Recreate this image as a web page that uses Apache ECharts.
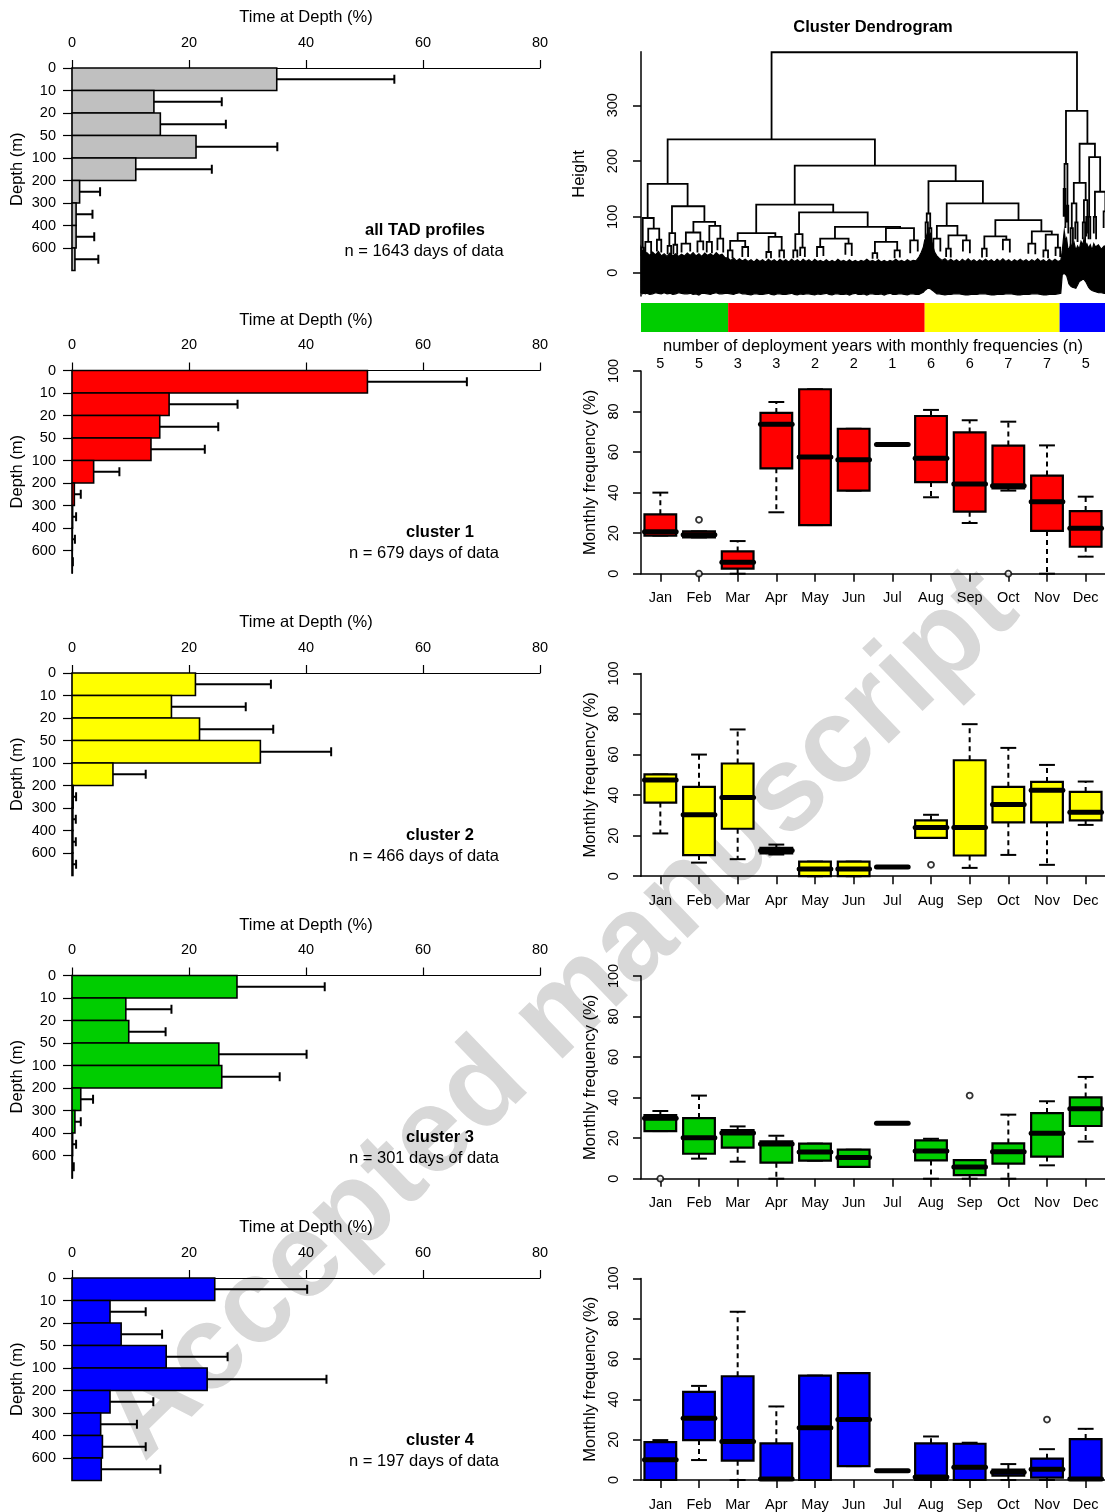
<!DOCTYPE html>
<html>
<head>
<meta charset="utf-8">
<script src="https://cdn.jsdelivr.net/npm/echarts@6/dist/echarts.min.js"></script>
<style>
  html, body { margin: 0; padding: 0; background: #fff; }
  #chart { width: 1105px; height: 1512px; }
</style>
</head>
<body>
<div id="chart"></div>
<script>
// ---------- data ----------
const depthBins = ['0', '10', '20', '50', '100', '200', '300', '400', '600'];
const profileNames = ['all TAD profiles', 'cluster 1', 'cluster 2', 'cluster 3', 'cluster 4'];
const profileDays = [1643, 679, 466, 301, 197];

// time at depth (%) per depth bin: mean and standard deviation
const tadMeanAll = [35.0, 14.0, 15.1, 21.2, 10.9, 1.3, 0.7, 0.7, 0.5];
const tadSdAll   = [20.1, 11.6, 11.2, 13.9, 13.0, 3.5, 2.8, 3.1, 4.0];
const tadMeanC1  = [50.5, 16.6, 15.0, 13.5, 3.7, 0.4, 0.1, 0.05, 0.02];
const tadSdC1    = [17.0, 11.7, 10.0, 9.2, 4.4, 1.1, 0.6, 0.45, 0.13];
const tadMeanC2  = [21.1, 17.0, 21.8, 32.2, 7.0, 0.2, 0.15, 0.15, 0.15];
const tadSdC2    = [12.9, 12.7, 12.6, 12.1, 5.6, 0.5, 0.5, 0.5, 0.55];
const tadMeanC3  = [28.2, 9.2, 9.7, 25.1, 25.6, 1.5, 0.5, 0.1, 0.05];
const tadSdC3    = [15.0, 7.8, 6.3, 15.0, 9.9, 2.1, 1.0, 0.6, 0.25];
const tadMeanC4  = [24.4, 6.5, 8.4, 16.1, 23.1, 6.5, 4.9, 5.2, 5.0];
const tadSdC4    = [15.8, 6.1, 7.0, 10.5, 20.4, 7.4, 6.2, 7.4, 10.1];

const months = ['Jan', 'Feb', 'Mar', 'Apr', 'May', 'Jun', 'Jul', 'Aug', 'Sep', 'Oct', 'Nov', 'Dec'];
const deployYears = [5, 5, 3, 3, 2, 2, 1, 6, 6, 7, 7, 5];

// monthly frequency (%): [lower whisker, Q1, median, Q3, upper whisker]
const freqC1 = [
  [18.8, 18.8, 20.7, 29.3, 40.0], [17.9, 17.9, 19.2, 20.9, 20.9], [0, 2.5, 5.6, 11.0, 16.1],
  [30.3, 52.0, 73.7, 79.3, 84.7], [24.0, 24.0, 57.6, 91.0, 91.0], [41.0, 41.0, 56.2, 71.5, 71.5],
  [63.7, 63.7, 63.7, 63.7, 63.7], [37.7, 45.2, 56.9, 77.8, 80.8], [25.0, 30.6, 44.2, 69.7, 75.7],
  [41.0, 42.1, 43.4, 63.2, 75.0], [0, 21.1, 35.5, 48.4, 63.3], [8.4, 13.3, 22.4, 30.9, 38.0]
];
const outC1 = [[1, 26.6], [1, 0], [9, 0]];
const freqC2 = [
  [21.1, 36.3, 47.5, 50.2, 50.2], [6.7, 10.4, 30.3, 44.1, 60.0], [8.4, 23.4, 38.8, 55.6, 72.4],
  [10.7, 11.2, 12.7, 14.0, 15.6], [0, 0, 3.6, 7.2, 7.2], [0, 0, 3.6, 7.2, 7.2],
  [4.6, 4.6, 4.6, 4.6, 4.6], [18.9, 18.9, 24.0, 27.5, 30.3], [4.1, 10.2, 24.0, 57.2, 75.0],
  [10.5, 26.6, 35.4, 44.1, 63.3], [5.6, 26.6, 42.4, 46.5, 54.9], [25.3, 27.5, 31.6, 41.6, 46.7]
];
const outC2 = [[7, 5.6]];
const freqC3 = [
  [23.5, 23.5, 29.8, 31.4, 33.4], [9.9, 12.3, 20.2, 29.9, 41.0], [8.4, 15.3, 22.5, 24.0, 25.8],
  [0, 7.9, 17.1, 18.4, 21.2], [8.9, 8.9, 13.2, 17.3, 17.3], [5.8, 5.8, 10.5, 14.3, 14.3],
  [27.3, 27.3, 27.3, 27.3, 27.3], [0, 9.0, 13.7, 18.9, 19.7], [0, 1.8, 5.8, 9.2, 9.2],
  [0, 7.4, 13.3, 17.4, 31.6], [6.6, 10.9, 22.4, 32.4, 38.2], [18.3, 26.0, 34.5, 40.1, 50.2]
];
const outC3 = [[0, 0], [8, 41.0]];
const freqC4 = [
  [0, 0, 10.1, 18.8, 19.8], [9.9, 19.8, 30.7, 43.7, 46.7], [0, 9.6, 19.1, 51.5, 83.5],
  [0, 0, 0.5, 18.2, 36.5], [0, 0, 25.9, 51.8, 51.8], [6.9, 6.9, 30.0, 53.0, 53.0],
  [4.6, 4.6, 4.6, 4.6, 4.6], [0, 0, 1.5, 18.2, 21.6], [0, 0, 6.3, 18.0, 18.5],
  [0, 2.1, 3.8, 5.1, 7.9], [0, 1.2, 5.3, 10.6, 15.3], [0, 0, 0.5, 20.3, 25.4]
];
const outC4 = [[10, 30.0]];

// dendrogram: leaves ordered left to right, cluster order along the leaves
const leafCount = 1643;
const clusterOrder = [3, 1, 2, 4];
const heightTicks = [0, 100, 200, 300];
// merges: [left x, right x, merge height, left child height, right child height]
const dendroMerges = [
  [451, 1506, 395, 239, 290],
  [92, 808, 239, 159, 192],
  [23, 161, 159, 98, 119],
  [6, 44, 98, 45, 79], [2, 10, 45, 30, 30], [25, 63, 79, 55, 59], [15, 35, 55, 34, 34], [55, 70, 59, 38, 36],
  [107, 219, 119, 71, 91], [98, 118, 71, 48, 50], [92, 104, 48, 33, 32], [112, 125, 50, 33, 32],
  [181, 256, 91, 72, 84], [155, 205, 72, 52, 56], [140, 170, 52, 36, 38], [195, 215, 56, 36, 40],
  [236, 274, 84, 55, 61], [227, 245, 55, 36, 35], [264, 284, 61, 40, 36],
  [531, 1087, 192, 122, 164],
  [398, 664, 122, 71, 108], [334, 464, 71, 57, 64], [308, 360, 57, 40, 46], [350, 370, 46, 28, 28],
  [300, 316, 40, 26, 26], [441, 486, 64, 37, 40], [433, 449, 37, 26, 26], [478, 494, 40, 27, 26],
  [546, 783, 108, 69, 82], [533, 558, 69, 40, 45], [526, 540, 40, 26, 27], [550, 566, 45, 30, 28],
  [670, 895, 82, 61, 80], [619, 717, 61, 46, 52],
  [608, 630, 46, 28, 30], [706, 728, 52, 32, 30], [846, 943, 80, 55, 58], [808, 885, 55, 35, 40],
  [800, 816, 35, 25, 25], [876, 894, 40, 26, 27], [930, 956, 58, 35, 38],
  [993, 1181, 164, 106, 124], [987, 999, 106, 90, 80], [983, 991, 90, 62, 55], [995, 1003, 80, 60, 45],
  [1056, 1304, 124, 84, 94], [1022, 1093, 84, 61, 67], [1010, 1034, 61, 40, 38], [1062, 1124, 67, 43, 58],
  [1054, 1070, 43, 28, 27], [1112, 1136, 58, 38, 35],
  [1224, 1383, 94, 65, 74], [1186, 1262, 65, 43, 59], [1178, 1194, 43, 27, 28], [1250, 1274, 59, 40, 36],
  [1350, 1419, 74, 52, 68], [1338, 1362, 52, 34, 33], [1398, 1440, 68, 40, 45],
  [1390, 1406, 40, 27, 26], [1432, 1448, 45, 30, 28],
  [1468, 1542, 290, 195, 231], [1463, 1473, 195, 150, 120], [1460, 1466, 150, 100, 80], [1470, 1476, 120, 90, 70],
  [1515, 1568, 231, 161, 207], [1495, 1536, 161, 124, 130], [1488, 1504, 124, 80, 90], [1530, 1542, 130, 90, 100],
  [1484, 1492, 80, 50, 45], [1500, 1508, 90, 60, 55], [1526, 1534, 90, 60, 50], [1538, 1546, 100, 65, 60],
  [1548, 1586, 207, 100, 145], [1544, 1552, 100, 70, 60], [1568, 1604, 145, 100, 110],
  [1564, 1572, 100, 70, 60], [1598, 1610, 110, 80, 70]
];
// outline of the dense low-level merges and hanging leaves: [leaf position, top height, bottom height]
const leafMass = [
  [0, 45, -36], [5, 38, -38], [10, 42, -37], [15, 33, -38], [20, 36, -37], [30, 31, -39], [40, 37, -38],
  [50, 32, -36], [60, 38, -37], [70, 30, -38], [80, 34, -36], [90, 29, -38], [100, 35, -37],
  [110, 30, -39], [120, 34, -38], [130, 29, -36], [140, 33, -37], [150, 30, -38], [160, 35, -38],
  [170, 31, -37], [180, 36, -39], [190, 30, -38], [200, 34, -40], [210, 29, -37], [220, 35, -37],
  [230, 31, -38], [240, 34, -39], [250, 30, -37], [260, 36, -36], [270, 31, -38], [280, 33, -38],
  [290, 27, -37], [300, 26, -37], [310, 22, -38], [320, 26, -39], [330, 21, -37], [340, 25, -36],
  [350, 21, -38], [360, 24, -38], [370, 20, -39], [380, 23, -40], [390, 19, -38], [400, 24, -38],
  [410, 20, -39], [420, 23, -39], [430, 19, -38], [440, 24, -37], [450, 20, -39], [460, 23, -40],
  [470, 19, -38], [480, 24, -38], [490, 20, -39], [500, 23, -39], [510, 19, -38], [520, 24, -37],
  [530, 20, -39], [540, 23, -40], [550, 19, -38], [560, 24, -39], [570, 20, -38], [580, 23, -38],
  [590, 19, -39], [600, 24, -40], [610, 20, -38], [620, 22, -39], [630, 19, -38], [640, 23, -37],
  [650, 19, -39], [660, 22, -40], [670, 19, -38], [680, 24, -38], [690, 20, -39], [700, 22, -39],
  [710, 19, -38], [720, 23, -40], [730, 19, -38], [740, 22, -37], [750, 19, -39], [760, 22, -39],
  [770, 20, -38], [780, 24, -40], [790, 20, -38], [800, 22, -38], [810, 19, -39], [820, 23, -39],
  [830, 19, -38], [840, 22, -40], [850, 19, -38], [860, 22, -37], [870, 20, -39], [880, 24, -39],
  [890, 20, -38], [900, 22, -38], [910, 19, -39], [920, 23, -40], [930, 20, -38], [940, 22, -38],
  [950, 21, -39], [960, 28, -39], [968, 36, -37], [975, 45, -35], [980, 58, -32], [985, 64, -30],
  [990, 72, -28], [995, 66, -28], [1000, 70, -29], [1005, 55, -31], [1010, 44, -33], [1015, 36, -35],
  [1022, 30, -38], [1030, 26, -38], [1040, 22, -39], [1050, 25, -40], [1060, 20, -39], [1070, 24, -39],
  [1080, 20, -38], [1090, 23, -38], [1100, 19, -38], [1110, 24, -39], [1120, 20, -40], [1130, 25, -40],
  [1140, 20, -39], [1150, 23, -39], [1160, 19, -39], [1170, 23, -38], [1180, 20, -38], [1190, 24, -38],
  [1200, 20, -39], [1210, 23, -40], [1220, 19, -40], [1230, 24, -39], [1240, 20, -39], [1250, 25, -39],
  [1260, 20, -38], [1270, 23, -38], [1280, 19, -38], [1290, 23, -39], [1300, 20, -40], [1310, 24, -40],
  [1320, 20, -39], [1330, 23, -39], [1340, 19, -39], [1350, 23, -38], [1360, 20, -38], [1370, 25, -38],
  [1380, 20, -39], [1390, 23, -40], [1400, 19, -40], [1410, 24, -39], [1420, 20, -39], [1430, 24, -39],
  [1440, 20, -38], [1450, 22, -37], [1455, 38, -4], [1459, 60, -2], [1462, 75, -1], [1466, 58, -3],
  [1470, 62, -5], [1474, 45, -12], [1478, 40, -20], [1484, 52, -24], [1490, 45, -26], [1496, 54, -27],
  [1502, 40, -28], [1508, 48, -22], [1514, 42, -16], [1520, 56, -14], [1526, 50, -12], [1530, 60, -12],
  [1536, 48, -16], [1540, 52, -20], [1546, 44, -26], [1552, 50, -30], [1558, 40, -32], [1564, 52, -33],
  [1570, 46, -34], [1580, 50, -36], [1590, 42, -36], [1600, 48, -37], [1610, 40, -38], [1643, 38, -38]
];

// ---------- styling / layout ----------
const FONT = '"Liberation Sans", Arial, Helvetica, sans-serif';
const profileColors = ['#c0c0c0', '#ff0000', '#ffff00', '#00cd00', '#0000ff'];
const tadMeans = [tadMeanAll, tadMeanC1, tadMeanC2, tadMeanC3, tadMeanC4];
const tadSds = [tadSdAll, tadSdC1, tadSdC2, tadSdC3, tadSdC4];
const freqBoxes = [freqC1, freqC2, freqC3, freqC4];
const freqOutliers = [outC1, outC2, outC3, outC4];

const PAGE_W = 1105;
const STEP = 302.5;
const TAD = { left: 72, top: 68, width: 468, height: 202.5 };
const BOX = { left: 641, top: 371, width: 465, height: 202.7 };
const DEN = { left: 641, top: 51.7, height: 244.4, leafSpacing: 0.2895 };
const BAR = { top: 303, height: 29 };
// the tree runs past the right page edge; only the part that fits is laid out
const denWidth = PAGE_W - DEN.left;
const denXMax = denWidth / DEN.leafSpacing;

const black = '#000';
const tickFont = { color: black, fontSize: 14.5, fontFamily: FONT };
const nameFont = { color: black, fontSize: 16.5, fontFamily: FONT };

const grid = [], xAxis = [], yAxis = [], series = [];

// ---------- time-at-depth profiles ----------
function tadRenderer(fill) {
  return function (params, api) {
    const i = api.value(0), v = api.value(1), sd = api.value(2);
    const a = api.coord([0, i]);
    const b = api.coord([v, i + 1]);
    const m = api.coord([v, i + 0.5]);
    const e = api.coord([v + sd, i + 0.5]);
    return {
      type: 'group',
      children: [
        { type: 'rect', shape: { x: a[0], y: a[1], width: b[0] - a[0], height: b[1] - a[1] },
          style: { fill: fill, stroke: black, lineWidth: 1.6 } },
        { type: 'line', shape: { x1: m[0], y1: m[1], x2: e[0], y2: e[1] },
          style: { stroke: black, lineWidth: 2 } },
        { type: 'line', shape: { x1: e[0], y1: e[1] - 4.5, x2: e[0], y2: e[1] + 4.5 },
          style: { stroke: black, lineWidth: 2 } }
      ]
    };
  };
}

const binIdx = depthBins.map((d, i) => i);
for (let k = 0; k < 5; k++) {
  const gi = grid.length;
  grid.push({ left: TAD.left, top: TAD.top + k * STEP, width: TAD.width, height: TAD.height });
  xAxis.push({
    type: 'value', gridIndex: gi, position: 'top', min: 0, max: 80, interval: 20,
    axisLine: { show: true, onZero: false, lineStyle: { color: black, width: 1.2 } },
    axisTick: { show: true, length: 8, lineStyle: { color: black, width: 1.2 } },
    axisLabel: Object.assign({ margin: 18 }, tickFont),
    splitLine: { show: false },
    name: 'Time at Depth (%)', nameLocation: 'middle', nameGap: 42, nameTextStyle: nameFont
  });
  yAxis.push({
    type: 'value', gridIndex: gi, inverse: true, min: 0, max: depthBins.length,
    axisLine: { show: true, onZero: false, lineStyle: { color: black, width: 1.2 } },
    axisTick: { show: true, length: 9, customValues: binIdx, lineStyle: { color: black, width: 1.2 } },
    axisLabel: Object.assign({ margin: 16, customValues: binIdx,
      formatter: v => (depthBins[v] !== undefined ? depthBins[v] : '') }, tickFont),
    splitLine: { show: false },
    name: 'Depth (m)', nameLocation: 'middle', nameRotate: 90, nameGap: 46, nameTextStyle: nameFont
  });
  series.push({
    type: 'custom', xAxisIndex: gi, yAxisIndex: gi, encode: { x: 1, y: 0 },
    renderItem: tadRenderer(profileColors[k]),
    data: tadMeans[k].map((m, i) => [i, m, tadSds[k][i]])
  });
}

// ---------- cluster dendrogram ----------
const denIdx = grid.length;
grid.push({ left: DEN.left, top: DEN.top, width: denWidth, height: DEN.height });
xAxis.push({ type: 'value', gridIndex: denIdx, min: 0, max: denXMax, show: false });
yAxis.push({
  type: 'value', gridIndex: denIdx, min: -42, max: 396,
  axisLine: { show: true, onZero: false, lineStyle: { color: black, width: 1.5 } },
  axisTick: { show: true, length: 8, customValues: heightTicks, lineStyle: { color: black, width: 1.5 } },
  axisLabel: Object.assign({ margin: 21, rotate: 90, customValues: heightTicks }, tickFont),
  splitLine: { show: false },
  name: 'Height', nameLocation: 'middle', nameRotate: 90, nameGap: 53, nameTextStyle: nameFont
});
series.push({
  type: 'custom', xAxisIndex: denIdx, yAxisIndex: denIdx, clip: false,
  renderItem: function (params, api) {
    if (params.dataIndex !== 0) return null;
    const top = leafMass.map(p => api.coord([p[0], p[1]]));
    const bottom = leafMass.map(p => api.coord([p[0], p[2]])).reverse();
    return { type: 'polygon', shape: { points: top.concat(bottom) },
      style: { fill: black, stroke: black, lineWidth: 1.2, lineJoin: 'miter' } };
  },
  data: [[0, 0]]
});
series.push({
  type: 'custom', xAxisIndex: denIdx, yAxisIndex: denIdx, clip: false,
  renderItem: function (params, api) {
    const xl = api.value(0), xr = api.value(1), h = api.value(2), hl = api.value(3), hr = api.value(4);
    return {
      type: 'polyline',
      shape: { points: [api.coord([xl, hl]), api.coord([xl, h]), api.coord([xr, h]), api.coord([xr, hr])] },
      style: { stroke: black, lineWidth: 1.8, fill: null }
    };
  },
  data: dendroMerges
});

// cluster colour strip beneath the leaves
const barIdx = grid.length;
grid.push({ left: DEN.left, top: BAR.top, width: denWidth, height: BAR.height });
xAxis.push({ type: 'value', gridIndex: barIdx, min: 0, max: denXMax, show: false });
yAxis.push({ type: 'value', gridIndex: barIdx, min: 0, max: 1, show: false });
const bands = [];
let start = 0;
clusterOrder.forEach(c => { bands.push([start, start + profileDays[c], c]); start += profileDays[c]; });
series.push({
  type: 'custom', xAxisIndex: barIdx, yAxisIndex: barIdx, clip: true,
  renderItem: function (params, api) {
    const a = api.coord([api.value(0), 1]);
    const b = api.coord([api.value(1), 0]);
    return { type: 'rect', shape: { x: a[0], y: a[1], width: b[0] - a[0], height: b[1] - a[1] },
      style: { fill: profileColors[api.value(2)] } };
  },
  data: bands
});

// ---------- monthly frequency box plots ----------
function boxRenderer(fill) {
  return function (params, api) {
    const x = api.value(0);
    const lo = api.coord([x, api.value(1)]);
    const q1 = api.coord([x, api.value(2)]);
    const md = api.coord([x, api.value(3)]);
    const q3 = api.coord([x, api.value(4)]);
    const hi = api.coord([x, api.value(5)]);
    const bw = api.size([1, 0])[0] * 0.82;
    const cx = md[0], half = bw / 2, st = bw / 4;
    const dash = { stroke: black, lineWidth: 2, lineDash: [5, 4] };
    const solid = { stroke: black, lineWidth: 2 };
    return {
      type: 'group',
      children: [
        { type: 'line', shape: { x1: cx, y1: q3[1], x2: cx, y2: hi[1] }, style: dash },
        { type: 'line', shape: { x1: cx, y1: q1[1], x2: cx, y2: lo[1] }, style: dash },
        { type: 'line', shape: { x1: cx - st, y1: hi[1], x2: cx + st, y2: hi[1] }, style: solid },
        { type: 'line', shape: { x1: cx - st, y1: lo[1], x2: cx + st, y2: lo[1] }, style: solid },
        { type: 'rect', shape: { x: cx - half, y: q3[1], width: bw, height: q1[1] - q3[1] },
          style: { fill: fill, stroke: black, lineWidth: 2.2 } },
        { type: 'line', shape: { x1: cx - half, y1: md[1], x2: cx + half, y2: md[1] },
          style: { stroke: black, lineWidth: 5, lineCap: 'round' } }
      ]
    };
  };
}

const clusterColorIdx = [1, 2, 3, 4];
for (let k = 0; k < 4; k++) {
  const gi = grid.length;
  grid.push({ left: BOX.left, top: BOX.top + k * STEP, width: BOX.width, height: BOX.height });
  xAxis.push({
    type: 'category', gridIndex: gi, data: months, boundaryGap: true,
    axisLine: { show: true, onZero: false, lineStyle: { color: black, width: 1.5 } },
    axisTick: { show: true, alignWithLabel: true, length: 8, lineStyle: { color: black, width: 1.5 } },
    axisLabel: Object.assign({ margin: 17, interval: 0 }, tickFont),
    splitLine: { show: false }
  });
  yAxis.push({
    type: 'value', gridIndex: gi, min: 0, max: 100, interval: 20,
    axisLine: { show: true, onZero: false, lineStyle: { color: black, width: 1.5 } },
    axisTick: { show: true, length: 8, lineStyle: { color: black, width: 1.5 } },
    axisLabel: Object.assign({ margin: 20, rotate: 90 }, tickFont),
    splitLine: { show: false },
    name: 'Monthly frequency (%)', nameLocation: 'middle', nameRotate: 90, nameGap: 42, nameTextStyle: nameFont
  });
  const xi = xAxis.length - 1, yi = yAxis.length - 1;
  series.push({
    type: 'custom', xAxisIndex: xi, yAxisIndex: yi,
    renderItem: boxRenderer(profileColors[clusterColorIdx[k]]),
    data: freqBoxes[k].map((b, i) => [i].concat(b))
  });
  series.push({
    type: 'scatter', xAxisIndex: xi, yAxisIndex: yi, z: 5,
    symbol: 'circle', symbolSize: 6,
    itemStyle: { color: '#fff', borderColor: black, borderWidth: 1.8 },
    data: freqOutliers[k]
  });
  if (k === 0) {
    xAxis.push({
      type: 'category', gridIndex: gi, data: months, position: 'top', boundaryGap: true,
      axisLine: { show: false }, axisTick: { show: false },
      axisLabel: Object.assign({ margin: 0, interval: 0, formatter: (v, i) => String(deployYears[i]) }, tickFont),
      splitLine: { show: false },
      name: 'number of deployment years with monthly frequencies (n)',
      nameLocation: 'middle', nameGap: 16, nameTextStyle: nameFont
    });
  }
}

// ---------- free text ----------
const graphic = [{
  type: 'text', x: 560, y: 1015, rotation: Math.PI * 44 / 180, z: -10,
  style: { text: 'Accepted manuscript', font: 'bold 120px ' + FONT, fill: '#d8d8d8',
    align: 'center', verticalAlign: 'middle' }
}, {
  type: 'text', x: 873, y: 27,
  style: { text: 'Cluster Dendrogram', font: 'bold 16.5px ' + FONT, fill: black,
    align: 'center', verticalAlign: 'middle' }
}];
for (let k = 0; k < 5; k++) {
  const top = TAD.top + k * STEP;
  graphic.push({
    type: 'text', x: k === 0 ? 425 : 440, y: top + 162,
    style: { text: profileNames[k], font: 'bold 16.5px ' + FONT, fill: black, align: 'center', verticalAlign: 'middle' }
  });
  graphic.push({
    type: 'text', x: 424, y: top + 183,
    style: { text: 'n = ' + profileDays[k] + ' days of data', font: '16.5px ' + FONT, fill: black,
      align: 'center', verticalAlign: 'middle' }
  });
}

const chart = echarts.init(document.getElementById('chart'), null, { renderer: 'canvas', width: PAGE_W, height: 1512 });
chart.setOption({
  backgroundColor: '#fff',
  animation: false,
  textStyle: { fontFamily: FONT },
  grid: grid,
  xAxis: xAxis,
  yAxis: yAxis,
  series: series,
  graphic: graphic
});
</script>
</body>
</html>
